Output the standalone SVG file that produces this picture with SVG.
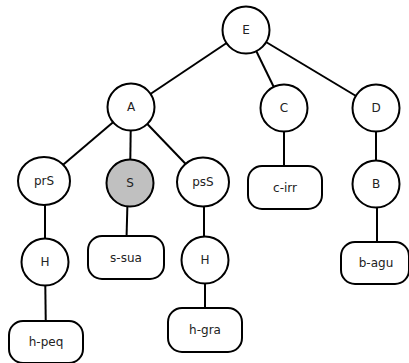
<svg xmlns="http://www.w3.org/2000/svg" width="409" height="363" viewBox="0 0 409 363">
<style>
.n{fill:#fff;stroke:#000;stroke-width:2}
.g{fill:#c0c0c0}
.e{stroke:#000;stroke-width:2;fill:none}
text{font-family:"DejaVu Sans",sans-serif;font-size:12px;text-anchor:middle;dominant-baseline:central;fill:#222}
</style>
<rect width="409" height="363" fill="#fff"/>
<g id="connectors">
<line class="e" x1="246" y1="30" x2="131" y2="107"/>
<line class="e" x1="246" y1="30" x2="284" y2="108"/>
<line class="e" x1="246" y1="30" x2="376" y2="108"/>
<line class="e" x1="131" y1="107" x2="44" y2="181"/>
<line class="e" x1="131" y1="107" x2="130" y2="183"/>
<line class="e" x1="131" y1="107" x2="203" y2="182"/>
<line class="e" x1="284" y1="108" x2="284" y2="187"/>
<line class="e" x1="376" y1="108" x2="376" y2="184"/>
<line class="e" x1="45" y1="181" x2="45" y2="262"/>
<line class="e" x1="45" y1="262" x2="46" y2="342"/>
<line class="e" x1="128" y1="183" x2="126" y2="257"/>
<line class="e" x1="204" y1="182" x2="204" y2="260"/>
<line class="e" x1="205" y1="260" x2="205" y2="330"/>
<line class="e" x1="377" y1="184" x2="377" y2="263"/>
</g>
<g id="E"><circle class="n" cx="246" cy="30" r="23.5"/><text x="246" y="30">E</text></g>
<g id="A"><circle class="n" cx="131" cy="107" r="23.5"/><text x="131" y="107">A</text></g>
<g id="C"><circle class="n" cx="284" cy="108" r="23.5"/><text x="284" y="108">C</text></g>
<g id="D"><circle class="n" cx="376" cy="108" r="23.5"/><text x="376" y="108">D</text></g>
<g id="prS"><ellipse class="n" cx="44" cy="181" rx="26" ry="24"/><text x="44" y="181">prS</text></g>
<g id="S"><circle class="n g" cx="130" cy="183" r="23.5"/><text x="130" y="183">S</text></g>
<g id="psS"><ellipse class="n" cx="203" cy="182" rx="26" ry="24.5"/><text x="203" y="182">psS</text></g>
<g id="c-irr"><rect class="n" x="248" y="166" width="74" height="43" rx="14"/><text x="285" y="187.5">c-irr</text></g>
<g id="B"><circle class="n" cx="376" cy="184" r="23.5"/><text x="376" y="184">B</text></g>
<g id="H1"><circle class="n" cx="45" cy="262" r="23.5"/><text x="45" y="262">H</text></g>
<g id="s-sua"><rect class="n" x="88" y="236" width="76" height="43" rx="14"/><text x="126" y="257.5">s-sua</text></g>
<g id="H2"><circle class="n" cx="205" cy="260" r="23.5"/><text x="205" y="260">H</text></g>
<g id="b-agu"><rect class="n" x="341" y="242" width="68" height="42" rx="14"/><text x="376" y="263">b-agu</text></g>
<g id="h-peq"><rect class="n" x="9" y="321" width="74" height="42" rx="14"/><text x="46" y="342">h-peq</text></g>
<g id="h-gra"><rect class="n" x="168" y="308" width="74" height="44" rx="14"/><text x="205" y="330">h-gra</text></g>
</svg>
